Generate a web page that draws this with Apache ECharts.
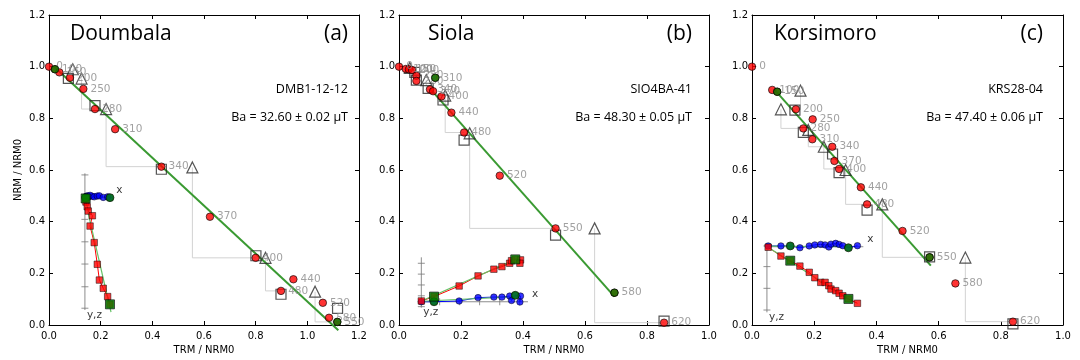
<!DOCTYPE html>
<html>
<head>
<meta charset="utf-8">
<script src="https://cdn.jsdelivr.net/npm/echarts@6/dist/echarts.min.js"></script>
<style>
html, body { margin: 0; padding: 0; background: #fff; }
#chart { width: 1080px; height: 360px; }
</style>
</head>
<body>
<div id="chart"></div>
<script>
// ---------- Doumbala, DMB1-12-12 ----------
const stepsA = ['0', '100', '150', '200', '250', '280', '310', '340', '370', '400', '440', '480', '520', '580', '550'];
const trmA = [0.000, 0.023, 0.040, 0.081, 0.133, 0.178, 0.256, 0.435, 0.623, 0.800, 0.946, 0.898, 1.060, 1.084, 1.116];
const nrmA = [1.000, 0.990, 0.978, 0.957, 0.914, 0.836, 0.758, 0.613, 0.419, 0.260, 0.177, 0.132, 0.086, 0.028, 0.012];
const fitStepsA = [1, 14];
const fitLineA = [[0.02, 1.0], [1.12, -0.02]];
const checksA = [[0.092, 0.990], [0.126, 0.954], [0.221, 0.836], [0.555, 0.610], [0.838, 0.260], [1.030, 0.129]];
const checkToA = [3, 5, 7, 9, 11, 14];
const tailsA = [[0.075, 0.955], [0.178, 0.849], [0.435, 0.603], [0.801, 0.268], [0.898, 0.119], [1.117, 0.064]];
// orthogonal projection (inset)
const zijXA = [0.142, 0.143, 0.148, 0.152, 0.168, 0.159, 0.175, 0.187, 0.195, 0.210, 0.227, 0.236];
const zijVertA = [0.490, 0.476, 0.458, 0.441, 0.423, 0.383, 0.319, 0.235, 0.174, 0.142, 0.110, 0.080];
const zijHorA = [0.493, 0.497, 0.500, 0.495, 0.498, 0.502, 0.496, 0.499, 0.500, 0.494, 0.496, 0.493];
const zijFitStepsA = [0, 11];
const zijVertFitA = [[0.150, 0.440], [0.240, 0.050]];
const zijHorFitA = [[0.142, 0.495], [0.236, 0.495]];
const zijAxisXA = [[0.139, 0.493], [0.245, 0.493]];
const zijAxisYA = [[0.139, 0.587], [0.139, 0.058]];
const zijTicksYA = [0.581, 0.497, 0.409, 0.322, 0.236, 0.148, 0.065];
const zijTicksXA = [];

// ---------- Siola, SIO4BA-41 ----------
const stepsB = ['0', '100', '150', '200', '250', '280', '310', '340', '370', '400', '440', '480', '520', '550', '580', '620'];
const trmB = [0.000, 0.022, 0.032, 0.042, 0.056, 0.056, 0.117, 0.100, 0.110, 0.137, 0.169, 0.210, 0.325, 0.505, 0.695, 0.855];
const nrmB = [1.000, 0.991, 0.990, 0.987, 0.965, 0.945, 0.957, 0.912, 0.905, 0.885, 0.822, 0.745, 0.578, 0.374, 0.125, 0.009];
const fitStepsB = [6, 14];
const fitLineB = [[0.100, 0.915], [0.695, 0.110]];
const checksB = [[0.035, 0.995], [0.088, 0.948], [0.149, 0.888], [0.228, 0.742], [0.631, 0.374]];
const checkToB = [4, 7, 11, 13, 15];
const tailsB = [[0.051, 0.978], [0.056, 0.948], [0.094, 0.916], [0.142, 0.871], [0.210, 0.716], [0.505, 0.348], [0.855, 0.015]];
const zijXB = [0.072, 0.113, 0.194, 0.255, 0.306, 0.332, 0.357, 0.363, 0.375, 0.392, 0.390];
const zijVertB = [0.093, 0.110, 0.151, 0.190, 0.216, 0.226, 0.239, 0.249, 0.254, 0.252, 0.239];
const zijHorB = [0.090, 0.090, 0.093, 0.106, 0.108, 0.108, 0.112, 0.095, 0.115, 0.112, 0.089];
const zijFitStepsB = [1, 8];
const zijVertFitB = [[0.072, 0.093], [0.380, 0.256]];
const zijHorFitB = [[0.072, 0.092], [0.380, 0.110]];
const zijAxisXB = [[0.061, 0.090], [0.416, 0.090]];
const zijAxisYB = [[0.072, 0.262], [0.072, 0.067]];
const zijTicksYB = [0.239, 0.197, 0.155, 0.113, 0.071];
const zijTicksXB = [0.131, 0.196, 0.260, 0.325, 0.389];

// ---------- Korsimoro, KRS28-04 ----------
const stepsC = ['0', '100', '150', '200', '250', '280', '310', '340', '370', '400', '440', '480', '520', '550', '580', '620'];
const trmC = [0.000, 0.065, 0.081, 0.141, 0.195, 0.165, 0.194, 0.258, 0.265, 0.280, 0.350, 0.370, 0.484, 0.571, 0.654, 0.839];
const nrmC = [1.000, 0.910, 0.903, 0.835, 0.796, 0.761, 0.719, 0.690, 0.635, 0.604, 0.533, 0.467, 0.364, 0.262, 0.161, 0.013];
const fitStepsC = [2, 13];
const fitLineC = [[0.073, 0.910], [0.575, 0.230]];
const checksC = [[0.156, 0.907], [0.093, 0.835], [0.181, 0.755], [0.231, 0.690], [0.301, 0.600], [0.419, 0.467], [0.686, 0.261]];
const checkToC = [3, 5, 7, 9, 11, 13, 15];
const tailsC = [[0.138, 0.832], [0.165, 0.746], [0.259, 0.662], [0.280, 0.590], [0.370, 0.445], [0.571, 0.264], [0.839, 0.004]];
const zijXC = [0.052, 0.093, 0.123, 0.154, 0.184, 0.202, 0.221, 0.235, 0.247, 0.254, 0.269, 0.280, 0.292, 0.310, 0.339];
const zijVertC = [0.301, 0.267, 0.249, 0.228, 0.204, 0.183, 0.165, 0.165, 0.152, 0.139, 0.133, 0.123, 0.113, 0.101, 0.084];
const zijHorC = [0.306, 0.306, 0.306, 0.299, 0.306, 0.310, 0.312, 0.310, 0.302, 0.313, 0.316, 0.312, 0.307, 0.299, 0.307];
const zijFitStepsC = [2, 13];
const zijVertFitC = [[0.052, 0.301], [0.310, 0.100]];
const zijHorFitC = [[0.052, 0.305], [0.310, 0.303]];
const zijAxisXC = [[0.048, 0.303], [0.358, 0.303]];
const zijAxisYC = [[0.048, 0.316], [0.048, 0.049]];
const zijTicksYC = [0.306, 0.226, 0.142, 0.058];
const zijTicksXC = [];

// axis ranges and panel texts
const xMaxes = [1.2, 1.0, 1.0];
const yMax = 1.2;
const tickStep = 0.2;
const siteNames = ['Doumbala', 'Siola', 'Korsimoro'];
const panelTags = ['(a)', '(b)', '(c)'];
const specimenIds = ['DMB1-12-12', 'SIO4BA-41', 'KRS28-04'];
const paleoIntensities = ['Ba = 32.60 ± 0.02 µT', 'Ba = 48.30 ± 0.05 µT', 'Ba = 47.40 ± 0.06 µT'];
const xAxisTitle = 'TRM / NRM0';
const yAxisTitle = 'NRM / NRM0';

const panels = [
  { steps: stepsA, trm: trmA, nrm: nrmA, fitSteps: fitStepsA, fit: fitLineA, checks: checksA, checkTo: checkToA, tails: tailsA,
    zx: zijXA, zv: zijVertA, zh: zijHorA, zFit: zijFitStepsA, zvFit: zijVertFitA, zhFit: zijHorFitA,
    zAxX: zijAxisXA, zAxY: zijAxisYA, zTy: zijTicksYA, zTx: zijTicksXA },
  { steps: stepsB, trm: trmB, nrm: nrmB, fitSteps: fitStepsB, fit: fitLineB, checks: checksB, checkTo: checkToB, tails: tailsB,
    zx: zijXB, zv: zijVertB, zh: zijHorB, zFit: zijFitStepsB, zvFit: zijVertFitB, zhFit: zijHorFitB,
    zAxX: zijAxisXB, zAxY: zijAxisYB, zTy: zijTicksYB, zTx: zijTicksXB },
  { steps: stepsC, trm: trmC, nrm: nrmC, fitSteps: fitStepsC, fit: fitLineC, checks: checksC, checkTo: checkToC, tails: tailsC,
    zx: zijXC, zv: zijVertC, zh: zijHorC, zFit: zijFitStepsC, zvFit: zijVertFitC, zhFit: zijHorFitC,
    zAxX: zijAxisXC, zAxY: zijAxisYC, zTy: zijTicksYC, zTx: zijTicksXC }
];

// ---------- layout & style ----------
const gridBoxes = [
  { left: 49, top: 15, width: 310, height: 310 },
  { left: 399, top: 15, width: 310, height: 310 },
  { left: 752, top: 15, width: 311, height: 310 }
];
const tickFont = 'DejaVu Sans';
const textFont = 'Open Sans';
const RED = '#ff0000', BLUE = '#0000ff', GREEN = '#008000';
const FIT = '#3a9a32', ZFIT = '#66c266', CHECK_LINE = '#d2d2d2', STEP_LABEL = '#8a8a8a', ZAXIS = '#8c8c8c';

function axisCommon(max, show) {
  return {
    type: 'value', min: 0, max: max, interval: tickStep,
    axisLine: { show: true, onZero: false, lineStyle: { color: '#000', width: 1 } },
    axisTick: { show: true, inside: true, length: 4, lineStyle: { color: '#000', width: 1 } },
    axisLabel: {
      show: show, color: '#000', fontSize: 10, fontFamily: tickFont,
      showMinLabel: true, showMaxLabel: true,
      formatter: v => v.toFixed(1)
    },
    splitLine: { show: false }
  };
}

const xAxes = [], yAxes = [];
gridBoxes.forEach((g, i) => {
  xAxes.push(Object.assign(axisCommon(xMaxes[i], true), { gridIndex: i, position: 'bottom' }));
  yAxes.push(Object.assign(axisCommon(yMax, true), { gridIndex: i, position: 'left' }));
});
gridBoxes.forEach((g, i) => {
  xAxes.push(Object.assign(axisCommon(xMaxes[i], false), { gridIndex: i, position: 'top' }));
  yAxes.push(Object.assign(axisCommon(yMax, false), { gridIndex: i, position: 'right' }));
});
xAxes.forEach(a => { a.axisLabel.margin = 6; });
yAxes.forEach(a => { a.axisLabel.margin = 4; });

function pairs(xs, ys) { return xs.map((x, k) => [x, ys[k]]); }

function panelSeries(p, i) {
  const ax = { xAxisIndex: i, yAxisIndex: i, animation: false, silent: true };
  const s = [];
  // pTRM check lines
  p.checks.forEach((c, k) => {
    const t = p.checkTo[k];
    s.push(Object.assign({
      type: 'line', symbol: 'none', z: 1,
      lineStyle: { color: CHECK_LINE, width: 1 },
      data: [c, [c[0], p.nrm[t]], [p.trm[t], p.nrm[t]]]
    }, ax));
  });
  // best-fit line
  s.push(Object.assign({
    type: 'line', symbol: 'none', clip: false, z: 2,
    lineStyle: { color: FIT, width: 2 }, data: p.fit
  }, ax));
  // pTRM tail checks (open squares)
  s.push(Object.assign({
    type: 'scatter', symbol: 'rect', symbolSize: 10, z: 3,
    itemStyle: { color: 'rgba(255,255,255,0)', borderColor: '#2a2a2a', borderWidth: 1.2 },
    data: p.tails
  }, ax));
  // pTRM checks (open triangles)
  s.push(Object.assign({
    type: 'scatter', symbol: 'triangle', symbolSize: 11, z: 3,
    itemStyle: { color: 'rgba(255,255,255,0)', borderColor: '#2a2a2a', borderWidth: 1.2 },
    data: p.checks
  }, ax));
  // NRM-TRM steps
  s.push(Object.assign({
    type: 'scatter', symbol: 'circle', symbolSize: 7.5, z: 4,
    itemStyle: { color: RED, borderColor: '#000', borderWidth: 0.8 },
    label: { show: true, position: 'right', distance: 3, color: STEP_LABEL, fontSize: 10.5, fontFamily: tickFont, formatter: d => d.name },
    data: p.trm.map((x, k) => ({ name: p.steps[k], value: [x, p.nrm[k]] }))
  }, ax));
  // steps bounding the fit
  s.push(Object.assign({
    type: 'scatter', symbol: 'circle', symbolSize: 7.5, z: 5,
    itemStyle: { color: GREEN, borderColor: '#000', borderWidth: 0.8 },
    data: p.fitSteps.map(k => [p.trm[k], p.nrm[k]])
  }, ax));

  // ----- orthogonal projection inset -----
  const zAxisStyle = { color: ZAXIS, width: 1 };
  s.push(Object.assign({ type: 'line', symbol: 'none', z: 6, lineStyle: zAxisStyle, data: p.zAxX }, ax));
  s.push(Object.assign({ type: 'line', symbol: 'none', z: 6, lineStyle: zAxisStyle, data: p.zAxY }, ax));
  s.push(Object.assign({
    type: 'scatter', symbol: 'rect', symbolSize: [7, 1], z: 6,
    itemStyle: { color: '#777' }, data: p.zTy.map(y => [p.zAxY[0][0], y])
  }, ax));
  s.push(Object.assign({
    type: 'scatter', symbol: 'rect', symbolSize: [1, 7], z: 6,
    itemStyle: { color: '#777' }, data: p.zTx.map(x => [x, p.zAxX[0][1]])
  }, ax));
  // axis names of the inset
  s.push(Object.assign({
    type: 'scatter', symbolSize: 0, z: 6,
    label: { show: true, position: 'right', offset: [2, -7], distance: 2, color: '#000', fontSize: 10.5, fontFamily: tickFont, formatter: 'x' },
    data: [p.zAxX[1]]
  }, ax));
  s.push(Object.assign({
    type: 'scatter', symbolSize: 0, z: 6,
    label: { show: true, position: 'right', offset: [0, 5], distance: 2, color: '#000', fontSize: 10.5, fontFamily: tickFont, formatter: 'y,z' },
    data: [p.zAxY[1]]
  }, ax));
  const hor = pairs(p.zx, p.zh), ver = pairs(p.zx, p.zv);
  s.push(Object.assign({ type: 'line', symbol: 'none', z: 7, lineStyle: { color: BLUE, width: 1 }, data: hor }, ax));
  s.push(Object.assign({ type: 'line', symbol: 'none', z: 7, lineStyle: { color: RED, width: 1 }, data: ver }, ax));
  s.push(Object.assign({ type: 'line', symbol: 'none', z: 8, lineStyle: { color: ZFIT, width: 1.2 }, data: p.zhFit }, ax));
  s.push(Object.assign({ type: 'line', symbol: 'none', z: 8, lineStyle: { color: ZFIT, width: 1.2 }, data: p.zvFit }, ax));
  s.push(Object.assign({
    type: 'scatter', symbol: 'circle', symbolSize: 6.5, z: 9,
    itemStyle: { color: BLUE, borderColor: '#000', borderWidth: 0.6 }, data: hor
  }, ax));
  s.push(Object.assign({
    type: 'scatter', symbol: 'rect', symbolSize: 6.5, z: 9,
    itemStyle: { color: RED, borderColor: '#000', borderWidth: 0.6 }, data: ver
  }, ax));
  s.push(Object.assign({
    type: 'scatter', symbol: 'circle', symbolSize: 8, z: 10,
    itemStyle: { color: GREEN, borderColor: '#000', borderWidth: 0.8 },
    data: p.zFit.map(k => hor[k])
  }, ax));
  s.push(Object.assign({
    type: 'scatter', symbol: 'rect', symbolSize: 9, z: 10,
    itemStyle: { color: GREEN, borderColor: '#000', borderWidth: 0.8 },
    data: p.zFit.map(k => ver[k])
  }, ax));
  return s;
}

let series = [];
panels.forEach((p, i) => { series = series.concat(panelSeries(p, i)); });

// panel texts
const graphics = [];
const titleLeft = [70, 428, 774];
const tagRight = [348, 692, 1043];
gridBoxes.forEach((g, i) => {
  graphics.push({ type: 'text', left: titleLeft[i], top: 24, silent: true,
    style: { text: siteNames[i], font: '21px "' + textFont + '"', fill: '#000' } });
  graphics.push({ type: 'text', right: 1080 - tagRight[i], top: 24, silent: true,
    style: { text: panelTags[i], font: '21px "' + textFont + '"', fill: '#000' } });
  graphics.push({ type: 'text', right: 1080 - tagRight[i], top: 83, silent: true,
    style: { text: specimenIds[i], font: '12.5px "' + textFont + '"', fill: '#000' } });
  graphics.push({ type: 'text', right: 1080 - tagRight[i], top: 111, silent: true,
    style: { text: paleoIntensities[i], font: '12.5px "' + textFont + '"', fill: '#000' } });
  graphics.push({ type: 'text', x: g.left + g.width / 2, y: 350, silent: true,
    style: { text: xAxisTitle, font: '10px "' + tickFont + '"', fill: '#000', align: 'center', verticalAlign: 'middle' } });
});
graphics.push({ type: 'text', x: 18, y: 170, rotation: Math.PI / 2, silent: true,
  style: { text: yAxisTitle, font: '10px "' + tickFont + '"', fill: '#000', align: 'center', verticalAlign: 'middle' } });

const chart = echarts.init(document.getElementById('chart'), null, { renderer: 'canvas' });
chart.setOption({
  animation: false,
  backgroundColor: '#fff',
  grid: gridBoxes.map(g => Object.assign({ containLabel: false, outerBoundsMode: 'none', show: false }, g)),
  xAxis: xAxes,
  yAxis: yAxes,
  series: series,
  graphic: graphics
});
</script>
</body>
</html>
